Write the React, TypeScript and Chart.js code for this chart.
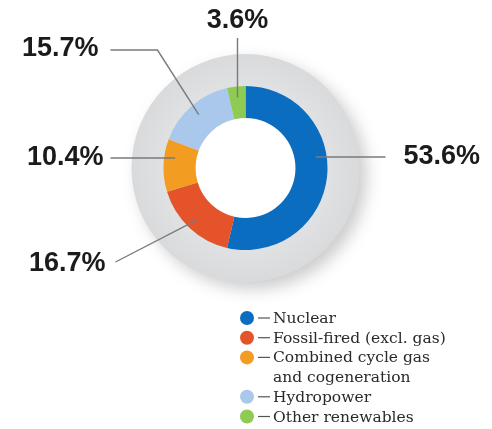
import { useEffect, useRef } from 'react';
import { Chart, registerables } from 'chart.js';

Chart.register(...registerables);

const categories: (string | string[])[] = [
  'Nuclear',
  'Fossil-fired (excl. gas)',
  ['Combined cycle gas', 'and cogeneration'],
  'Hydropower',
  'Other renewables',
];
const shares = [53.6, 16.7, 10.4, 15.7, 3.6];
const colors = ['#0b6dc0', '#e4532a', '#f29c22', '#a9c8ec', '#8fca52'];

// leader-label layout, relative to the doughnut centre
const labelLayout = [
  { mode: 'h', tx: 158, ty: -11, lineEnd: 140, align: 'left' },
  { mode: 'line', tx: -140, ty: 96, ex: -130, ey: 94, align: 'right' },
  { mode: 'h', tx: -142, ty: -10, lineEnd: -135, align: 'right' },
  { mode: 'elbow', tx: -147, ty: -119, bx: -88, by: -118, lineEnd: -135, align: 'right' },
  { mode: 'v', tx: 0, ty: -147, lineEnd: -130, align: 'center' },
];

const backdropPlugin = {
  id: 'backdrop',
  beforeDatasetsDraw(chart: any) {
    const arc = chart.getDatasetMeta(0).data[0];
    if (!arc) return;
    const { x, y, outerRadius, innerRadius } = arc;
    const r = outerRadius + 32;
    const ctx = chart.ctx;
    ctx.save();
    ctx.shadowColor = 'rgba(0,0,0,0.2)';
    ctx.shadowBlur = 16;
    ctx.shadowOffsetX = 7;
    ctx.shadowOffsetY = 7;
    const g = ctx.createRadialGradient(x, y, outerRadius, x, y, r);
    g.addColorStop(0, '#e0e1e3');
    g.addColorStop(1, '#d9dadc');
    ctx.fillStyle = g;
    ctx.beginPath();
    ctx.arc(x, y, r, 0, Math.PI * 2);
    ctx.fill();
    ctx.restore();
    ctx.save();
    ctx.fillStyle = '#ffffff';
    ctx.beginPath();
    ctx.arc(x, y, innerRadius, 0, Math.PI * 2);
    ctx.fill();
    ctx.restore();
  },
};

const labelsPlugin = {
  id: 'leaderLabels',
  afterDatasetsDraw(chart: any) {
    const meta = chart.getDatasetMeta(0);
    const ctx = chart.ctx;
    const values = chart.data.datasets[0].data as number[];
    ctx.save();
    ctx.strokeStyle = '#7a7a7a';
    ctx.lineWidth = 1.4;
    ctx.fillStyle = '#1b1b1b';
    ctx.font = "bold 27px 'Liberation Sans', Arial, sans-serif";
    ctx.textBaseline = 'middle';
    meta.data.forEach((arc: any, i: number) => {
      const L: any = labelLayout[i];
      const cx = arc.x, cy = arc.y;
      const rMid = 71;
      const mid = (arc.startAngle + arc.endAngle) / 2;
      let sx = cx + Math.cos(mid) * rMid;
      let sy = cy + Math.sin(mid) * rMid;
      let tx = cx + L.tx;
      const ty = cy + L.ty;
      ctx.beginPath();
      if (L.mode === 'h') {
        const dx = Math.sqrt(rMid * rMid - L.ty * L.ty) * Math.sign(L.tx);
        sx = cx + dx;
        sy = ty;
        ctx.moveTo(sx, sy);
        ctx.lineTo(cx + L.lineEnd, sy);
      } else if (L.mode === 'line') {
        ctx.moveTo(sx, sy);
        ctx.lineTo(cx + L.ex, cy + L.ey);
      } else if (L.mode === 'elbow') {
        ctx.moveTo(sx, sy);
        ctx.lineTo(cx + L.bx, cy + L.by);
        ctx.lineTo(cx + L.lineEnd, cy + L.by);
      } else if (L.mode === 'v') {
        ctx.moveTo(sx, sy);
        ctx.lineTo(sx, cy + L.lineEnd);
        tx = sx;
      }
      ctx.stroke();
      ctx.textAlign = L.align;
      ctx.fillText(values[i].toFixed(1) + '%', tx, ty);
    });
    ctx.restore();
  },
};

const legendPlugin = {
  id: 'dotLegend',
  afterDraw(chart: any) {
    const ctx = chart.ctx;
    const labels = chart.data.labels as (string | string[])[];
    const bg = chart.data.datasets[0].backgroundColor as string[];
    const dotX = 247;
    const startY = 318;
    const step = 19.7;
    let row = 0;
    ctx.save();
    ctx.font = "15.5px 'DejaVu Serif', serif";
    ctx.textBaseline = 'middle';
    ctx.textAlign = 'left';
    labels.forEach((lab, i) => {
      const lines = Array.isArray(lab) ? lab : [lab];
      const y = startY + row * step;
      ctx.fillStyle = bg[i];
      ctx.beginPath();
      ctx.arc(dotX, y, 7, 0, Math.PI * 2);
      ctx.fill();
      ctx.strokeStyle = '#555';
      ctx.lineWidth = 1.2;
      ctx.beginPath();
      ctx.moveTo(dotX + 11, y);
      ctx.lineTo(dotX + 23, y);
      ctx.stroke();
      ctx.fillStyle = '#2a2a2a';
      lines.forEach((ln, k) => {
        ctx.fillText(ln, dotX + 26, startY + (row + k) * step + 1);
      });
      row += lines.length;
    });
    ctx.restore();
  },
};

export default function App() {
  const ref = useRef<HTMLCanvasElement>(null);
  useEffect(() => {
    if (!ref.current) return;
    const chart = new Chart(ref.current, {
      type: 'doughnut',
      data: {
        labels: categories as any,
        datasets: [
          {
            data: shares,
            backgroundColor: colors,
            borderWidth: 0,
          },
        ],
      },
      options: {
        responsive: false,
        animation: false,
        cutout: 50,
        layout: { padding: { left: 163, right: 164, top: 86, bottom: 179 } },
        plugins: {
          legend: { display: false },
          tooltip: { enabled: false },
        },
      },
      plugins: [backdropPlugin, labelsPlugin, legendPlugin],
    });
    return () => chart.destroy();
  }, []);
  return (
    <div style={{ position: 'fixed', left: 0, top: 0, width: 492, height: 429, background: '#fff' }}>
      <canvas ref={ref} width={492} height={429} style={{ width: 492, height: 429 }} />
    </div>
  );
}
